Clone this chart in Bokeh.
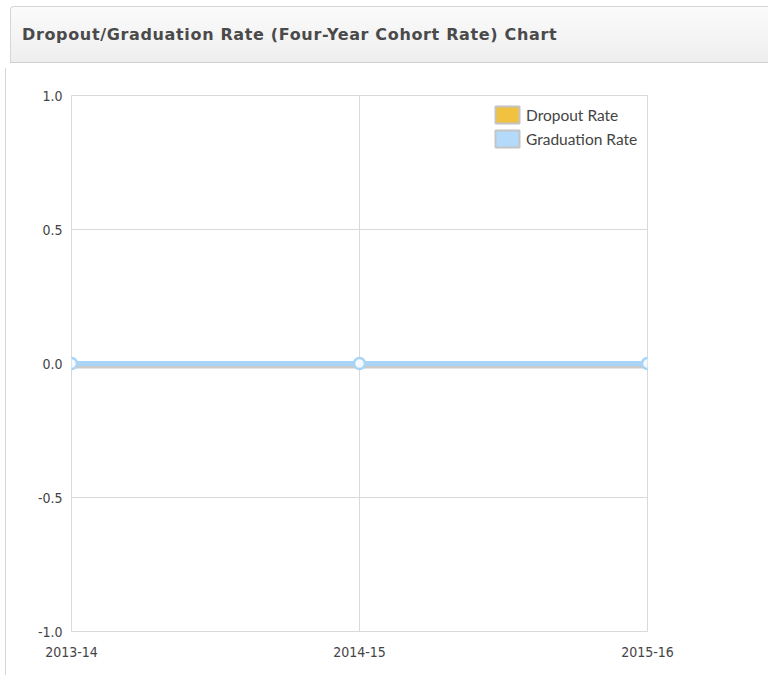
from bokeh.plotting import figure
from bokeh.models import ColumnDataSource, Div, FixedTicker, Legend, LegendItem, Range1d
from bokeh.layouts import column
from bokeh.embed import file_html
from bokeh.resources import INLINE

# ---- data ----
years = ["2013-14", "2014-15", "2015-16"]
dropout_rate = [0.0, 0.0, 0.0]
graduation_rate = [0.0, 0.0, 0.0]
y_ticks = [-1.0, -0.5, 0.0, 0.5, 1.0]
title_text = "Dropout/Graduation Rate (Four-Year Cohort Rate) Chart"

Y_MIN, Y_MAX = -1.0, 1.0
FRAME_H = 536
SHADOW_PX = 3
shadow_off = SHADOW_PX * (Y_MAX - Y_MIN) / FRAME_H

xpos = list(range(len(years)))
src = ColumnDataSource(dict(x=xpos, drop=dropout_rate, grad=graduation_rate,
                            shadow=[v - shadow_off for v in graduation_rate]))

inner_style = (
    "margin-left:5px;margin-top:1px;width:760px;height:57px;box-sizing:border-box;"
    "background:linear-gradient(#fbfbfb,#eeeeee);"
    "border-top:1px solid #d6d6d6;border-left:1px solid #d6d6d6;border-bottom:1px solid #d0d0d0;"
    "border-top-left-radius:4px;padding-left:11px;line-height:55px;"
    "font-family:'DejaVu Sans';font-weight:bold;font-size:16px;letter-spacing:0.65px;color:#4a4a4a;"
    "white-space:nowrap;overflow:hidden;"
)
header = Div(text=f'<div style="{inner_style}">{title_text}</div>', width=752, height=58)

p = figure(width=747, height=607, output_backend="svg", toolbar_location=None,
           x_range=Range1d(0, len(years) - 1), y_range=Range1d(Y_MIN, Y_MAX),
           min_border_left=65, min_border_right=106, min_border_top=27, min_border_bottom=44)
p.styles = {"border-left": "1px solid #d6d6d6", "margin-left": "5px"}
p.outline_line_color = "#d9d9d9"
p.outline_line_width = 1
p.background_fill_color = "white"

p.xaxis.ticker = FixedTicker(ticks=xpos)
p.xaxis.major_label_overrides = {i: y for i, y in enumerate(years)}
p.yaxis.ticker = FixedTicker(ticks=y_ticks)
p.yaxis.major_label_overrides = {t: f"{t:.1f}" for t in y_ticks}
for ax in (p.xaxis[0], p.yaxis[0]):
    ax.axis_line_color = None
    ax.major_tick_line_color = None
    ax.minor_tick_line_color = None
    ax.major_label_text_font = "DejaVu Sans Condensed"
    ax.major_label_text_font_size = "14px"
    ax.major_label_text_color = "#444444"
p.xaxis.major_label_standoff = 9
p.yaxis.major_label_standoff = 3
p.xgrid.grid_line_color = "#d9d9d9"
p.ygrid.grid_line_color = "#d9d9d9"
p.xgrid.ticker = FixedTicker(ticks=xpos)
p.ygrid.ticker = FixedTicker(ticks=y_ticks)

# lines
p.line(x="x", y="shadow", source=src, line_color="#8a8a8a", line_width=4, line_alpha=0.45)
p.line(x="x", y="drop", source=src, line_color="#f0c23f", line_width=5)
p.line(x="x", y="grad", source=src, line_color="#a9d4f5", line_width=5)
p.scatter(x="x", y="grad", source=src, size=11, fill_color="#f4faff",
          line_color="#a9d4f5", line_width=2.5)

# legend swatches (renderers placed outside the visible range)
dsw = p.quad(left=[10], right=[11], top=[10], bottom=[9], fill_color="#f0c23f",
             line_color="#c4c4c4", line_width=2)
gsw = p.quad(left=[10], right=[11], top=[10], bottom=[9], fill_color="#b3dafa",
             line_color="#c4c4c4", line_width=2)
legend = Legend(items=[LegendItem(label="Dropout Rate", renderers=[dsw]),
                       LegendItem(label="Graduation Rate", renderers=[gsw])],
                location=(421, 482))
legend.label_text_font = "Lato"
legend.label_text_font_size = "15.5px"
legend.label_text_color = "#444444"
legend.glyph_width = 30
legend.glyph_height = 21
legend.label_height = 21
legend.spacing = 3
legend.label_standoff = 4
legend.padding = 2
legend.margin = 0
legend.border_line_color = None
legend.background_fill_alpha = 0.0
p.add_layout(legend)

layout = column(header, p, spacing=0)
open("out.html", "w").write(file_html(layout, INLINE))
